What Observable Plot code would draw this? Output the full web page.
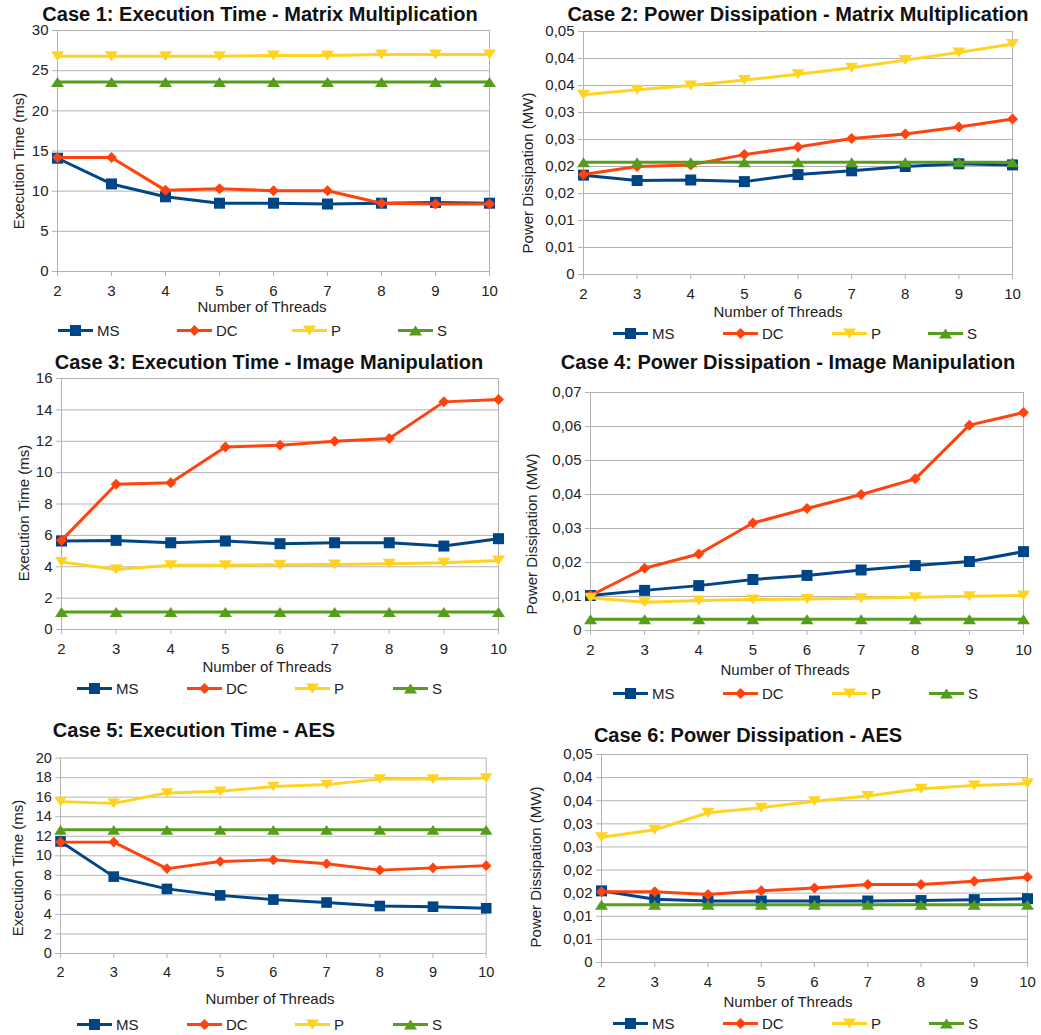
<!DOCTYPE html>
<html><head><meta charset="utf-8">
<script src="https://cdn.jsdelivr.net/npm/d3@7"></script>
<script src="https://cdn.jsdelivr.net/npm/@observablehq/plot@0.6"></script>
<style>
body{margin:0;background:#fff;}
#root{position:relative;width:1041px;height:1035px;overflow:hidden;background:#fff;font-family:"Liberation Sans",Arial,sans-serif;color:#1a1a1a;}
.abs{position:absolute;white-space:nowrap;line-height:1;}
.title{font-weight:bold;font-size:20px;line-height:0.9;transform:translate(-50%,-50%);color:#111;}
.xl{font-size:15px;transform:translate(-50%,-50%);color:#222;}
.yl{font-size:15px;transform:translate(-50%,-50%) rotate(-90deg);color:#222;}
.leg{font-size:15px;color:#222;display:flex;align-items:center;transform:translateY(-50%);}
</style></head>
<body><div id="root"></div>
<script>
// ---------- data ----------
const threads = [2, 3, 4, 5, 6, 7, 8, 9, 10];
const seriesNames = ["MS", "DC", "P", "S"];
const seriesColors = ["#004586", "#ff420e", "#ffd320", "#579d1c"];

const titles = [
  "Case 1: Execution Time - Matrix Multiplication",
  "Case 2: Power Dissipation - Matrix Multiplication",
  "Case 3: Execution Time - Image Manipulation",
  "Case 4: Power Dissipation - Image Manipulation",
  "Case 5: Execution Time - AES",
  "Case 6: Power Dissipation - AES"
];
const xAxisTitle = "Number of Threads";
const yTitleTime = "Execution Time (ms)";
const yTitlePower = "Power Dissipation (MW)";

// y tick values and their printed labels
const ticksC1 = [0, 5, 10, 15, 20, 25, 30];
const labelsC1 = ["0", "5", "10", "15", "20", "25", "30"];
const ticksPow45 = [0, 0.005, 0.01, 0.015, 0.02, 0.025, 0.03, 0.035, 0.04, 0.045];
const labelsPow45 = ["0", "0,01", "0,01", "0,02", "0,02", "0,03", "0,03", "0,04", "0,04", "0,05"];
const ticksC3 = [0, 2, 4, 6, 8, 10, 12, 14, 16];
const labelsC3 = ["0", "2", "4", "6", "8", "10", "12", "14", "16"];
const ticksC4 = [0, 0.01, 0.02, 0.03, 0.04, 0.05, 0.06, 0.07];
const labelsC4 = ["0", "0,01", "0,02", "0,03", "0,04", "0,05", "0,06", "0,07"];
const ticksC5 = [0, 2, 4, 6, 8, 10, 12, 14, 16, 18, 20];
const labelsC5 = ["0", "2", "4", "6", "8", "10", "12", "14", "16", "18", "20"];

// Case 1
const c1MS = [14.1, 10.9, 9.3, 8.5, 8.5, 8.4, 8.5, 8.6, 8.5];
const c1DC = [14.2, 14.2, 10.1, 10.3, 10.05, 10.05, 8.5, 8.4, 8.4];
const c1P  = [26.8, 26.8, 26.8, 26.8, 26.9, 26.9, 27.0, 27.0, 27.0];
const c1S  = [23.6, 23.6, 23.6, 23.6, 23.6, 23.6, 23.6, 23.6, 23.6];
// Case 2
const c2MS = [0.0184, 0.0174, 0.0175, 0.0172, 0.0185, 0.0192, 0.0200, 0.0205, 0.0203];
const c2DC = [0.0185, 0.0200, 0.0203, 0.0222, 0.0236, 0.0252, 0.0260, 0.0273, 0.0288];
const c2P  = [0.0333, 0.0342, 0.0350, 0.0360, 0.0371, 0.0383, 0.0397, 0.0411, 0.0427];
const c2S  = [0.0208, 0.0208, 0.0208, 0.0208, 0.0208, 0.0208, 0.0208, 0.0208, 0.0208];
// Case 3
const c3MS = [5.64, 5.68, 5.53, 5.64, 5.47, 5.53, 5.53, 5.32, 5.79];
const c3DC = [5.68, 9.26, 9.36, 11.64, 11.74, 12.0, 12.17, 14.51, 14.66];
const c3P  = [4.3, 3.83, 4.09, 4.09, 4.13, 4.15, 4.19, 4.26, 4.4];
const c3S  = [1.11, 1.11, 1.11, 1.11, 1.11, 1.11, 1.11, 1.11, 1.11];
// Case 4
const c4MS = [0.0103, 0.0118, 0.0132, 0.0150, 0.0162, 0.0178, 0.0191, 0.0203, 0.0232];
const c4DC = [0.0103, 0.0183, 0.0225, 0.0316, 0.0359, 0.0400, 0.0446, 0.0604, 0.0641];
const c4P  = [0.0096, 0.0083, 0.0088, 0.0091, 0.0093, 0.0095, 0.0098, 0.0101, 0.0103];
const c4S  = [0.0033, 0.0033, 0.0033, 0.0033, 0.0033, 0.0033, 0.0033, 0.0033, 0.0033];
// Case 5
const c5MS = [11.47, 7.87, 6.61, 5.95, 5.52, 5.22, 4.86, 4.79, 4.63];
const c5DC = [11.4, 11.4, 8.69, 9.42, 9.59, 9.19, 8.53, 8.76, 8.99];
const c5P  = [15.54, 15.37, 16.43, 16.6, 17.09, 17.29, 17.85, 17.85, 17.95];
const c5S  = [12.66, 12.66, 12.66, 12.66, 12.66, 12.66, 12.66, 12.66, 12.66];
// Case 6
const c6MS = [0.0155, 0.0137, 0.0133, 0.0133, 0.0133, 0.0133, 0.0134, 0.0136, 0.0138];
const c6DC = [0.0153, 0.0153, 0.0147, 0.0155, 0.0161, 0.0169, 0.0169, 0.0176, 0.0185];
const c6P  = [0.0271, 0.0287, 0.0324, 0.0335, 0.0349, 0.0360, 0.0376, 0.0383, 0.0387];
const c6S  = [0.0125, 0.0125, 0.0125, 0.0125, 0.0125, 0.0125, 0.0125, 0.0125, 0.0125];

// ---------- markers ----------
const symSquare = {draw(c) { const h = 5.5; c.moveTo(-h, -h); c.lineTo(h, -h); c.lineTo(h, h); c.lineTo(-h, h); c.closePath(); }};
const symDiamond = {draw(c) { const h = 5.5; c.moveTo(0, -h); c.lineTo(h, 0); c.lineTo(0, h); c.lineTo(-h, 0); c.closePath(); }};
const symTriDown = {draw(c) { const w = 6.5, h = 5; c.moveTo(-w, -h); c.lineTo(w, -h); c.lineTo(0, h); c.closePath(); }};
const symTriUp = {draw(c) { const w = 6.5, h = 5; c.moveTo(-w, h); c.lineTo(w, h); c.lineTo(0, -h); c.closePath(); }};
const seriesSymbols = [symSquare, symDiamond, symTriDown, symTriUp];

// ---------- panels ----------
const panels = [
  {title: titles[0], yTitle: yTitleTime, ticks: ticksC1, labels: labelsC1, series: [c1MS, c1DC, c1P, c1S]},
  {title: titles[1], yTitle: yTitlePower, ticks: ticksPow45, labels: labelsPow45, series: [c2MS, c2DC, c2P, c2S]},
  {title: titles[2], yTitle: yTitleTime, ticks: ticksC3, labels: labelsC3, series: [c3MS, c3DC, c3P, c3S]},
  {title: titles[3], yTitle: yTitlePower, ticks: ticksC4, labels: labelsC4, series: [c4MS, c4DC, c4P, c4S]},
  {title: titles[4], yTitle: yTitleTime, ticks: ticksC5, labels: labelsC5, series: [c5MS, c5DC, c5P, c5S]},
  {title: titles[5], yTitle: yTitlePower, ticks: ticksPow45, labels: labelsPow45, series: [c6MS, c6DC, c6P, c6S]}
];

// layout (pixel placement of each panel's frame and texts)
const layout = [
  {x0: 57, x1: 489, yT: 30, yB: 271, title: [260, 14], xl: [262, 306], yl: [18, 161], legY: 330, legX: [58, 177, 292, 398]},
  {x0: 583, x1: 1012, yT: 31, yB: 274, title: [798, 14], xl: [778, 311], yl: [527, 173], legY: 333, legX: [613, 723, 832, 928]},
  {x0: 61, x1: 498, yT: 378, yB: 629, title: [269, 362], xl: [267, 666], yl: [23, 513], legY: 688, legX: [77, 187, 295, 393]},
  {x0: 590, x1: 1023, yT: 392, yB: 630, title: [788, 362], xl: [785, 669], yl: [531, 534], legY: 693, legX: [613, 723, 832, 929]},
  {x0: 62, x1: 502, yT: 758, yB: 960, title: [194, 730], xl: [270, 998], yl: [17, 868], legY: 1024, legX: [77, 187, 295, 393], clip: 507},
  {x0: 601, x1: 1027, yT: 754, yB: 962, title: [748, 735], xl: [788, 1001], yl: [535, 867], legY: 1023, legX: [613, 723, 832, 929]}
];

const root = document.getElementById("root");
const mL = 60, mR = 22, mT = 12, mB = 34;
const GRID = "#b3b3b3";

function addText(cls, text, x, y) {
  const d = document.createElement("div");
  d.className = "abs " + cls;
  d.textContent = text;
  d.style.left = x + "px";
  d.style.top = y + "px";
  root.appendChild(d);
}

panels.forEach((p, k) => {
  const L = layout[k];
  const W = (L.x1 - L.x0) + mL + mR;
  const H = (L.yB - L.yT) + mT + mB;
  const labelMap = new Map(p.ticks.map((t, i) => [t, p.labels[i]]));
  const marks = [
    Plot.gridY(p.ticks, {stroke: GRID, strokeOpacity: 1, strokeWidth: 1}),
    Plot.ruleX([threads[0], threads[threads.length - 1]], {stroke: GRID, strokeWidth: 1}),
    Plot.axisY(p.ticks, {tickFormat: d => labelMap.get(d), tickSize: 5, tickPadding: 4, stroke: GRID, label: null, fontSize: 15}),
    Plot.axisX(threads, {tickFormat: d => String(d), tickSize: 5, tickPadding: 9, stroke: GRID, label: null, fontSize: 15})
  ];
  p.series.forEach((vals, s) => {
    const rows = threads.map((t, i) => ({t, v: vals[i]}));
    marks.push(Plot.line(rows, {x: "t", y: "v", stroke: seriesColors[s], strokeWidth: 3}));
    marks.push(Plot.dot(rows, {x: "t", y: "v", symbol: seriesSymbols[s], fill: seriesColors[s], stroke: "none", r: 5}));
  });
  const svg = Plot.plot({
    width: W, height: H,
    marginLeft: mL, marginRight: mR, marginTop: mT, marginBottom: mB,
    x: {type: "linear", domain: [threads[0], threads[threads.length - 1]], label: null},
    y: {type: "linear", domain: [p.ticks[0], p.ticks[p.ticks.length - 1]], label: null},
    style: {fontFamily: "Liberation Sans, Arial, sans-serif", fontSize: "15px", color: "#222", background: "transparent", overflow: "visible"},
    marks
  });
  const wrap = document.createElement("div");
  wrap.style.position = "absolute";
  const left = L.x0 - mL, top = L.yT - mT;
  wrap.style.left = left + "px";
  wrap.style.top = top + "px";
  wrap.style.height = H + "px";
  wrap.style.width = (L.clip ? L.clip - left : W) + "px";
  wrap.style.overflow = L.clip ? "hidden" : "visible";
  wrap.appendChild(svg);
  root.appendChild(wrap);

  addText("title", p.title, L.title[0], L.title[1]);
  addText("xl", xAxisTitle, L.xl[0], L.xl[1]);
  addText("yl", p.yTitle, L.yl[0], L.yl[1]);

  // legend
  seriesNames.forEach((name, s) => {
    const d = document.createElement("div");
    d.className = "abs leg";
    d.style.left = L.legX[s] + "px";
    d.style.top = L.legY + "px";
    const ns = "http://www.w3.org/2000/svg";
    const sw = document.createElementNS(ns, "svg");
    sw.setAttribute("width", 35); sw.setAttribute("height", 14);
    const ln = document.createElementNS(ns, "line");
    ln.setAttribute("x1", 0); ln.setAttribute("x2", 35); ln.setAttribute("y1", 7); ln.setAttribute("y2", 7);
    ln.setAttribute("stroke", seriesColors[s]); ln.setAttribute("stroke-width", 3);
    const mk = document.createElementNS(ns, "path");
    mk.setAttribute("d", d3.symbol(seriesSymbols[s])());
    mk.setAttribute("transform", "translate(17.5,7)");
    mk.setAttribute("fill", seriesColors[s]);
    sw.appendChild(ln); sw.appendChild(mk);
    const tx = document.createElement("span");
    tx.textContent = name;
    tx.style.marginLeft = "4px";
    d.appendChild(sw); d.appendChild(tx);
    root.appendChild(d);
  });
});
</script>
</body></html>
